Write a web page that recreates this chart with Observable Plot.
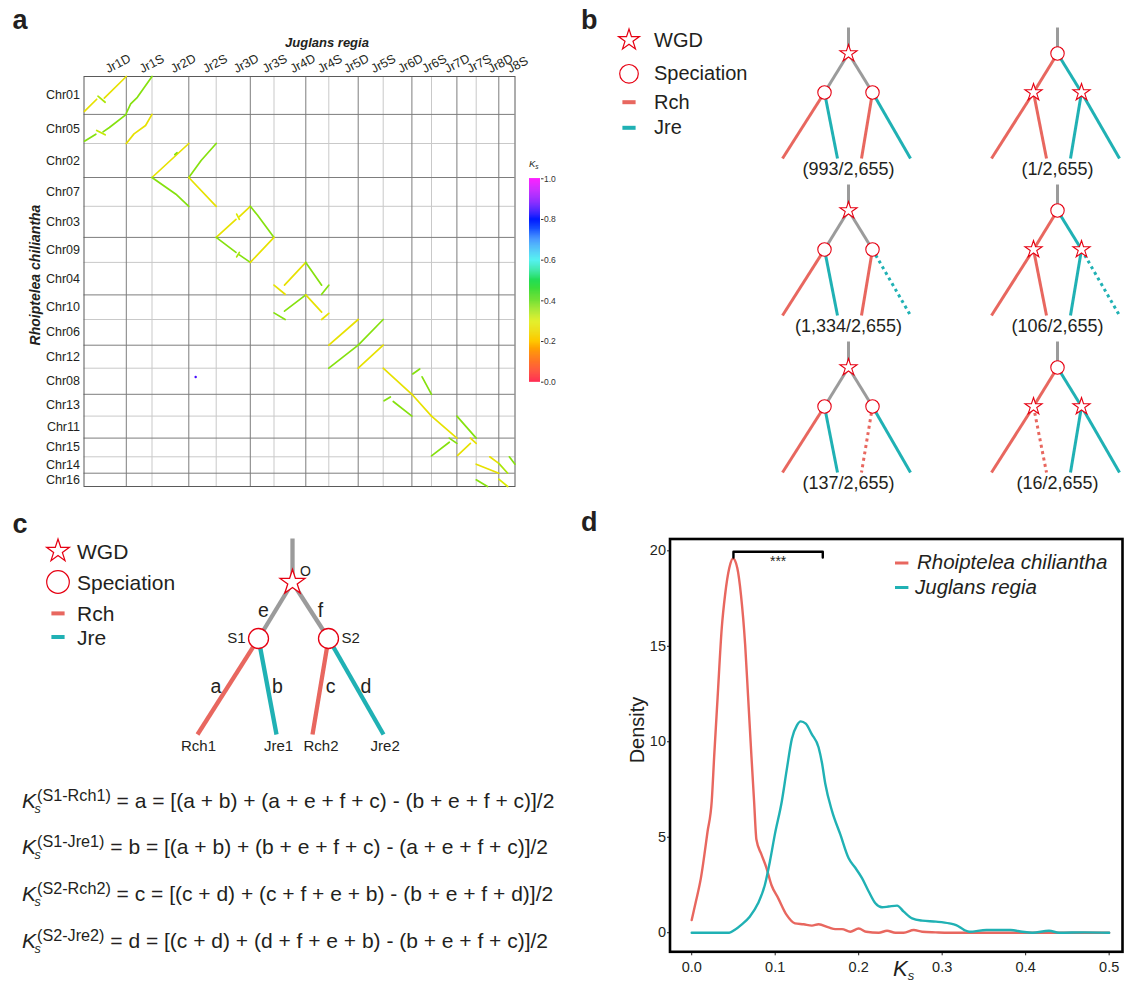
<!DOCTYPE html>
<html>
<head>
<meta charset="utf-8">
<script src="https://cdn.jsdelivr.net/npm/d3@7"></script>
<script src="https://cdn.jsdelivr.net/npm/@observablehq/plot@0.6"></script>
<style>
html,body{margin:0;padding:0;background:#fff;overflow:hidden;}
#fig{position:relative;width:1126px;height:985px;overflow:hidden;font-family:"Liberation Sans",Arial,Helvetica,sans-serif;color:#231f20;}
#fig div.t{position:absolute;white-space:nowrap;line-height:1;}
.plab{font-weight:bold;font-size:27px;}
.kk{position:relative;font-style:italic;}
.ks-sub{position:absolute;left:12.5px;top:14px;font-size:12.5px;font-style:italic;line-height:1;}
.ks-sup{font-size:16.2px;position:relative;top:-7px;margin-left:1px;}
</style>
</head>
<body>
<div id="fig"></div>
<script>
// ================= DATA =================
// ---- panel a: dot plot (Juglans regia x Rhoiptelea chiliantha) ----
const jrChroms  = ["Jr1D","Jr1S","Jr2D","Jr2S","Jr3D","Jr3S","Jr4D","Jr4S","Jr5D","Jr5S","Jr6D","Jr6S","Jr7D","Jr7S","Jr8D","J8S"];
const jrLengths = [42.3,25.7,36.8,27.4,34.1,23.7,31.8,23.0,29.4,25.0,28.7,19.6,25.4,19.3,22.6,16.2]; // Mb (approx.)
const rcChroms  = ["Chr01","Chr05","Chr02","Chr07","Chr03","Chr09","Chr04","Chr10","Chr06","Chr12","Chr08","Chr13","Chr11","Chr15","Chr14","Chr16"];
const rcLengths = [37.9,29.1,34.0,28.8,31.1,25.0,32.5,24.6,25.7,23.0,26.1,21.8,22.0,18.7,16.4,13.3]; // Mb (approx.)
// synteny blocks: [Juglans chr, Rhoiptelea chr, path as [fraction along Jr chr, fraction along Rc chr], median Ks]
const synBlocks = [
  ["Jr1D","Chr01",[[0.01,0.92],[0.30,0.60]],0.27],
  ["Jr1D","Chr01",[[0.33,0.52],[0.50,0.68]],0.34],
  ["Jr1D","Chr01",[[0.48,0.57],[1,0]],0.27],
  ["Jr1S","Chr01",[[0,0.97],[0.17,0.72],[0.43,0.55],[1,0]],0.37],
  ["Jr1D","Chr05",[[0.01,0.92],[0.28,0.68]],0.37],
  ["Jr1D","Chr05",[[0.30,0.55],[0.50,0.70]],0.32],
  ["Jr1D","Chr05",[[0.45,0.60],[0.60,0.45],[1,0]],0.37],
  ["Jr1S","Chr05",[[0,1],[0.30,0.67],[0.75,0.38],[1,0]],0.27],
  ["Jr2D","Chr02",[[0,1],[1,0]],0.27],
  ["Jr2D","Chr02",[[0.62,0.33],[0.68,0.27]],0.37],
  ["Jr2S","Chr02",[[0,1],[0.45,0.5],[1,0]],0.37],
  ["Jr2D","Chr07",[[0,0],[0.65,0.58],[1,1]],0.37],
  ["Jr2S","Chr07",[[0,0],[1,1]],0.27],
  ["Jr3D","Chr03",[[0,1],[0.58,0.42]],0.27],
  ["Jr3D","Chr03",[[0.60,0.25],[0.68,0.42]],0.30],
  ["Jr3D","Chr03",[[0.68,0.33],[1,0]],0.27],
  ["Jr3S","Chr03",[[0,0],[0.3,0.28],[1,1]],0.37],
  ["Jr3D","Chr09",[[0,0],[0.58,0.6]],0.37],
  ["Jr3D","Chr09",[[0.60,0.78],[0.68,0.6]],0.34],
  ["Jr3D","Chr09",[[0.68,0.7],[1,1]],0.37],
  ["Jr3S","Chr09",[[0,1],[1,0]],0.27],
  ["Jr4D","Chr04",[[0.33,0.70],[1,0]],0.27],
  ["Jr4D","Chr04",[[0,0.70],[0.35,0.98]],0.27],
  ["Jr4S","Chr04",[[0,0],[0.69,0.70]],0.37],
  ["Jr4S","Chr04",[[0.69,0.98],[1,0.70]],0.37],
  ["Jr4D","Chr10",[[0.33,0.66],[1,0]],0.37],
  ["Jr4D","Chr10",[[0,0.73],[0.35,1]],0.37],
  ["Jr4S","Chr10",[[0,0],[0.69,0.70]],0.27],
  ["Jr4S","Chr10",[[0.69,1],[1,0.75]],0.27],
  ["Jr5D","Chr06",[[0,1],[1,0]],0.27],
  ["Jr5S","Chr06",[[0,1],[1,0]],0.37],
  ["Jr5D","Chr12",[[0,1],[1,0]],0.37],
  ["Jr5S","Chr12",[[0,1],[1,0]],0.27],
  ["Jr6D","Chr08",[[0,0],[1,1]],0.27],
  ["Jr6S","Chr08",[[0.04,0.22],[0.4,0.03]],0.37],
  ["Jr6S","Chr08",[[0.52,0.33],[1,1]],0.37],
  ["Jr6D","Chr13",[[0.03,0.30],[0.25,0.12]],0.37],
  ["Jr6D","Chr13",[[0.35,0.33],[1,1]],0.37],
  ["Jr6S","Chr13",[[0,0],[1,1]],0.27],
  ["Jr7D","Chr11",[[0,0],[1,1]],0.27],
  ["Jr7S","Chr11",[[0,0],[1,1]],0.37],
  ["Jr7D","Chr15",[[0,0.95],[0.7,0.22]],0.37],
  ["Jr7D","Chr15",[[0.7,0],[1,0.28]],0.37],
  ["Jr7S","Chr15",[[0.04,0.92],[0.7,0.28]],0.27],
  ["Jr7S","Chr15",[[0.7,0],[1,0.28]],0.27],
  ["Jr8D","Chr14",[[0,0.45],[1,1]],0.27],
  ["Jr8D","Chr14",[[0.6,0],[1,0.4]],0.27],
  ["J8S","Chr14",[[0,0.4],[0.55,1]],0.34],
  ["J8S","Chr14",[[0.65,0],[1,0.45]],0.37],
  ["Jr8D","Chr16",[[0,0.5],[0.5,1]],0.37],
  ["J8S","Chr16",[[0,0.45],[0.55,1]],0.30]
];
const outlierHits = [["Jr2S","Chr08",0.25,0.34,0.85]];
const ksStops  = [0,0.1,0.2,0.3,0.4,0.5,0.6,0.7,0.8,0.9,1.0];
const ksColors = ["#ff0030","#ff5a00","#ffc800","#dcec00","#5fdc14","#22dd55","#30eeee","#2f8cff","#0018ff","#8a00ff","#ff00ff"];
const ksTicks  = [0,0.2,0.4,0.6,0.8,1.0];

// ---- panel b: gene tree topologies ----
const treeScenario = ["WGD first","speciation first","WGD first","speciation first","WGD first","speciation first"];
const treeCounts   = [993, 1, 1334, 106, 137, 16];
const treeTotal    = 2655;
const treeLost     = [null, null, "RR", "RR", "RL", "LR"]; // lost (dotted) tip
const legendEntries = ["WGD","Speciation","Rch","Jre"];

// ---- panel c: Ks decomposition ----
const cBranches = [["root","O",null,"anc"],["O","S1","e","anc"],["O","S2","f","anc"],
                   ["S1","Rch1","a","Rch"],["S1","Jre1","b","Jre"],["S2","Rch2","c","Rch"],["S2","Jre2","d","Jre"]];
const ksFormulas = [
  {pair:"S1-Rch1", branch:"a", expr:"[(a + b) + (a + e + f + c) - (b + e + f + c)]/2"},
  {pair:"S1-Jre1", branch:"b", expr:"[(a + b) + (b + e + f + c) - (a + e + f + c)]/2"},
  {pair:"S2-Rch2", branch:"c", expr:"[(c + d) + (c + f + e + b) - (b + e + f + d)]/2"},
  {pair:"S2-Jre2", branch:"d", expr:"[(c + d) + (d + f + e + b) - (b + e + f + c)]/2"}
];

// ---- panel d: Ks density ----
const rhoKs   = [0,0.005,0.011,0.019,0.024,0.027,0.031,0.036,0.040,0.045,0.0495,0.0546,0.059,0.064,0.0675,0.0716,0.0747,0.0775,0.0835,0.0895,0.0955,0.1037,0.1137,0.1237,0.134,0.144,0.152,0.164,0.172,0.180,0.190,0.200,0.209,0.224,0.234,0.244,0.254,0.266,0.276,0.292,0.308,0.35,0.40,0.45,0.50];
const rhoDens = [0.66,1.63,2.86,5.3,6.9,9.3,12.3,15.96,17.7,19.1,19.6,19.1,17.7,15.1,12.4,9.2,6.9,4.88,4.1,3.4,2.5,1.8,0.93,0.49,0.44,0.37,0.44,0.28,0.19,0.19,0.05,0.22,0.05,0.0,0.1,0.0,0.0,0.14,0.05,0.02,0.0,0.0,0.0,0.0,0.0];
const jugKs   = [0,0.011,0.045,0.0513,0.059,0.0695,0.0795,0.0876,0.0937,0.0996,0.108,0.1137,0.12,0.126,0.1306,0.1366,0.1438,0.152,0.156,0.16,0.168,0.178,0.188,0.196,0.204,0.212,0.22,0.228,0.236,0.246,0.254,0.264,0.276,0.2926,0.3086,0.3167,0.3266,0.3326,0.353,0.372,0.382,0.396,0.408,0.428,0.44,0.47,0.50];
const jugDens = [0,0,0,0.14,0.4,0.84,1.54,2.5,3.74,5.15,6.9,8.5,10.16,10.86,11.07,10.95,10.4,9.7,8.9,7.8,6.38,5.15,3.9,3.4,2.86,2.16,1.54,1.33,1.37,1.42,1.1,0.75,0.63,0.58,0.49,0.4,0.14,0.05,0.14,0.14,0.14,0.05,0,0.1,0,0.02,0];
const ksAxisTicks  = [0,0.1,0.2,0.3,0.4,0.5];
const densityTicks = [0,5,10,15,20];
const sigTest = {from:0.05, to:0.157, at:19.95, label:"***"};
const speciesNames = ["Rhoiptelea chiliantha","Juglans regia"];

// ================= HELPERS =================
const FONT = '"Liberation Sans", Arial, Helvetica, sans-serif';
const INK = "#231f20";
const RCH = "#E8675F", JRE = "#20B1B4", GREY = "#9B9B9B", NODE = "#E60012";
const spColor = {anc: GREY, Rch: RCH, Jre: JRE};
const fig = document.getElementById("fig");
function put(node, left, top) {
  const d = document.createElement("div");
  d.style.position = "absolute"; d.style.left = left + "px"; d.style.top = top + "px";
  d.appendChild(node); fig.appendChild(d); return d;
}
function txt(html, left, top, css = "") {
  const d = document.createElement("div");
  d.className = "t";
  d.style.cssText = `left:${left}px;top:${top}px;${css}`;
  d.innerHTML = html; fig.appendChild(d); return d;
}
const baseStyle = (fs) => ({fontFamily: FONT, fontSize: fs, color: INK, background: "transparent", overflow: "visible"});
const ksColor = {type: "linear", domain: ksStops, range: ksColors, interpolate: "rgb"};

// ================= PANEL a =================
const jrStart = d3.cumsum([0, ...jrLengths]);
const rcStart = d3.cumsum([0, ...rcLengths]);
const jrIdx = new Map(jrChroms.map((c, i) => [c, i]));
const rcIdx = new Map(rcChroms.map((c, i) => [c, i]));
const jrPos = (c, f) => jrStart[jrIdx.get(c)] + f * jrLengths[jrIdx.get(c)];
const rcPos = (c, f) => rcStart[rcIdx.get(c)] + f * rcLengths[rcIdx.get(c)];
const synPts = synBlocks.flatMap(([jr, rc, path, ks], id) =>
  path.map(([fj, fr]) => ({id, ks, x: jrPos(jr, fj), y: rcPos(rc, fr)})));
const outPts = outlierHits.map(([jr, rc, fj, fr, ks]) => ({ks, x: jrPos(jr, fj), y: rcPos(rc, fr)}));
const jrBounds = d3.range(1, jrChroms.length).map(i => ({v: jrStart[i], pair: i % 2 === 1}));
const rcBounds = d3.range(1, rcChroms.length).map(i => ({v: rcStart[i], pair: i % 2 === 1}));
const jrMid = jrChroms.map((c, i) => ({c, v: jrStart[i] + jrLengths[i] / 2}));
const rcMid = rcChroms.map((c, i) => ({c, v: rcStart[i] + rcLengths[i] / 2}));

const plotA = Plot.plot({
  width: 530, height: 500, marginLeft: 83.5, marginRight: 15.5, marginTop: 76, marginBottom: 14,
  x: {domain: [0, jrStart[jrChroms.length]], axis: null},
  y: {domain: [0, rcStart[rcChroms.length]], reverse: true, axis: null},
  color: ksColor,
  style: baseStyle("12.5px"),
  marks: [
    Plot.ruleX(jrBounds.filter(d => !d.pair), {x: "v", stroke: "#c9c9c9", strokeWidth: 1}),
    Plot.ruleY(rcBounds.filter(d => !d.pair), {y: "v", stroke: "#c9c9c9", strokeWidth: 1}),
    Plot.ruleX(jrBounds.filter(d => d.pair), {x: "v", stroke: "#7d7d7d", strokeWidth: 1}),
    Plot.ruleY(rcBounds.filter(d => d.pair), {y: "v", stroke: "#7d7d7d", strokeWidth: 1}),
    Plot.frame({stroke: "#5a5a5a", strokeWidth: 1}),
    Plot.line(synPts, {x: "x", y: "y", z: "id", stroke: "ks", strokeWidth: 1.7}),
    Plot.dot(outPts, {x: "x", y: "y", fill: "ks", r: 1.2}),
    Plot.text(jrMid, {x: "v", text: "c", frameAnchor: "top", dy: -11, dx: -1, rotate: -28, textAnchor: "start", fontSize: 12.5}),
    Plot.text(rcMid, {y: "v", text: "c", frameAnchor: "left", dx: -4, textAnchor: "end"})
  ]
});
put(plotA, 0, 0);

// colour bar
const ramp = d3.range(0, 1, 0.005);
const plotBar = Plot.plot({
  width: 48, height: 240, marginLeft: 9, marginRight: 28, marginTop: 18.3, marginBottom: 18.3,
  x: {domain: [0, 1], axis: null},
  y: {domain: [0, 1], axis: "right", ticks: ksTicks, tickFormat: ".1f", tickSize: 2.5, tickPadding: 1, label: null},
  color: ksColor,
  style: {...baseStyle("8.5px"), color: "#333"},
  marks: [Plot.rect(ramp, {x1: () => 0, x2: () => 1, y1: d => d, y2: d => d + 0.0056, fill: d => d + 0.0025})]
});
put(plotBar, 520, 160);
txt('<i>K</i><sub style="font-size:6.5px;font-style:italic;vertical-align:-2px">s</sub>', 529, 158.5, "font-size:9.5px;");

txt("<b><i>Juglans regia</i></b>", 327, 35.5, "font-size:13px;transform:translateX(-50%);");
txt("<b><i>Rhoiptelea chiliantha</i></b>", 35, 274.5, "font-size:14px;transform:translate(-50%,-50%) rotate(-90deg);");

// ================= PANEL b =================
const bTemplate = {root: [0, -26], top: [0, 0], L: [-24, 39], R: [24, 39], LL: [-66, 105], LR: [-11, 105], RL: [13, 105], RR: [62, 105]};
const bEdges = [["root","top"],["top","L"],["top","R"],["L","LL"],["L","LR"],["R","RL"],["R","RR"]];
const bEdgeSpecies = {
  "WGD first": ["anc","anc","anc","Rch","Jre","Rch","Jre"],
  "speciation first": ["anc","Rch","Jre","Rch","Rch","Jre","Jre"]
};
const bNodeEvents = {
  "WGD first": {top: "WGD", L: "Speciation", R: "Speciation"},
  "speciation first": {top: "Speciation", L: "WGD", R: "WGD"}
};
const B_DX = 209, B_DY = 157; // layout spacing between the six trees
const bTrees = treeScenario.map((sc, k) => ({sc, k, ox: (k % 2) * B_DX, oy: Math.floor(k / 2) * B_DY,
  label: `(${d3.format(",")(treeCounts[k])}/${d3.format(",")(treeTotal)})`}));
const bLinks = bTrees.flatMap(t => bEdges.map(([a, b], j) => ({
  x1: t.ox + bTemplate[a][0], y1: t.oy + bTemplate[a][1],
  x2: t.ox + bTemplate[b][0], y2: t.oy + bTemplate[b][1],
  sp: bEdgeSpecies[t.sc][j], lost: treeLost[t.k] === b
})));
const bNodes = bTrees.flatMap(t => Object.entries(bNodeEvents[t.sc]).map(([n, ev]) => ({
  x: t.ox + bTemplate[n][0], y: t.oy + bTemplate[n][1], ev
})));
const linkMarks = (links, w, dash) => Object.entries(spColor).flatMap(([sp, col]) => [
  Plot.link(links.filter(d => d.sp === sp && !d.lost), {x1: "x1", y1: "y1", x2: "x2", y2: "y2", stroke: col, strokeWidth: w}),
  Plot.link(links.filter(d => d.sp === sp && d.lost), {x1: "x1", y1: "y1", x2: "x2", y2: "y2", stroke: col, strokeWidth: w, strokeDasharray: dash})
]);
const plotB = Plot.plot({
  width: 526, height: 500, margin: 0,
  x: {domain: [-248, 278], axis: null},
  y: {domain: [-53, 447], reverse: true, axis: null},
  style: baseStyle("18px"),
  marks: [
    ...linkMarks(bLinks, 3, "3,3.5"),
    Plot.dot(bNodes.filter(d => d.ev === "WGD"), {x: "x", y: "y", symbol: "star", r: 5.4, fill: "white", stroke: NODE, strokeWidth: 1.1}),
    Plot.dot(bNodes.filter(d => d.ev === "Speciation"), {x: "x", y: "y", r: 6.7, fill: "white", stroke: NODE, strokeWidth: 1.1}),
    Plot.text(bTrees, {x: d => d.ox, y: d => d.oy + 116, text: "label"})
  ]
});
put(plotB, 600, 0);

function eventLegend(cx, ys, textLeft, fs, starR, circR) {
  const w = 40, h = 140;
  const top = ys[0] - 20, left = cx - 20;
  const svg = d3.create("svg").attr("width", w).attr("height", h).style("overflow", "visible");
  const lx = 20;
  svg.append("path").attr("d", d3.symbol(d3.symbolStar, starR * starR / 0.8908130915292852)())
    .attr("transform", `translate(${lx},${ys[0] - top})`).attr("fill", "white").attr("stroke", NODE).attr("stroke-width", 1.2);
  svg.append("circle").attr("cx", lx).attr("cy", ys[1] - top).attr("r", circR).attr("fill", "white").attr("stroke", NODE).attr("stroke-width", 1.2);
  [[RCH, ys[2]], [JRE, ys[3]]].forEach(([c, y]) => svg.append("line").attr("x1", lx - 6.6).attr("x2", lx + 6.6)
    .attr("y1", y - top).attr("y2", y - top).attr("stroke", c).attr("stroke-width", 4));
  put(svg.node(), left, top);
  legendEntries.forEach((name, i) => txt(name, textLeft, ys[i] - fs / 2, `font-size:${fs}px;`));
}
eventLegend(629.3, [39.5, 73.3, 101.7, 127.3], 654, 20, 11, 9.3);

// ================= PANEL c =================
const cNodes = [
  {id: "root", x: 0, y: -44},
  {id: "O", x: 0, y: 0, ev: "WGD"},
  {id: "S1", x: -34, y: 56, ev: "Speciation", side: "left"},
  {id: "S2", x: 36, y: 56, ev: "Speciation", side: "right"},
  {id: "Rch1", x: -95, y: 152, leaf: true, lx: 1},
  {id: "Jre1", x: -16, y: 152, leaf: true, lx: 2},
  {id: "Rch2", x: 20, y: 152, leaf: true, lx: 8.5},
  {id: "Jre2", x: 91, y: 152, leaf: true, lx: 1.7}
];
const cById = new Map(cNodes.map(d => [d.id, d]));
const cLinks = cBranches.map(([a, b, name, sp]) => {
  const A = cById.get(a), B = cById.get(b);
  return {x1: A.x, y1: A.y, x2: B.x, y2: B.y, sp, name, mx: (A.x + B.x) / 2, my: (A.y + B.y) / 2, left: B.x < A.x - 20, lost: false};
});
const plotC = Plot.plot({
  width: 280, height: 250, margin: 0,
  x: {domain: [-142, 138], axis: null},
  y: {domain: [-67, 183], reverse: true, axis: null},
  style: baseStyle("15px"),
  marks: [
    ...linkMarks(cLinks, 4.3, "3,3"),
    Plot.dot(cNodes.filter(d => d.ev === "WGD"), {x: "x", y: "y", symbol: "star", r: 7.8, fill: "white", stroke: NODE, strokeWidth: 1.3}),
    Plot.dot(cNodes.filter(d => d.ev === "Speciation"), {x: "x", y: "y", r: 10, fill: "white", stroke: NODE, strokeWidth: 1.3}),
    Plot.text(cNodes.filter(d => d.ev === "WGD"), {x: "x", y: "y", text: "id", dx: 13, dy: -11, fontSize: 14}),
    Plot.text(cNodes.filter(d => d.side === "left"), {x: "x", y: "y", text: "id", dx: -13, textAnchor: "end", fontSize: 15}),
    Plot.text(cNodes.filter(d => d.side === "right"), {x: "x", y: "y", text: "id", dx: 13, textAnchor: "start", fontSize: 15}),
    Plot.text(cNodes.filter(d => d.leaf), {x: d => d.x + d.lx, y: "y", text: "id", dy: 12, fontSize: 15}),
    Plot.text(cLinks.filter(d => d.name && d.left), {x: "mx", y: "my", text: "name", dx: -12, fontSize: 19.5}),
    Plot.text(cLinks.filter(d => d.name && !d.left), {x: "mx", y: "my", text: "name", dx: 10, fontSize: 19.5})
  ]
});
put(plotC, 150, 515);
eventLegend(57.5, [551, 582, 613.4, 637], 77, 21, 12, 11.3);

const formulaY = [800, 846.5, 893, 940];
ksFormulas.forEach((f, i) => {
  txt(`<span class="kk">K<span class="ks-sub">s</span></span><span class="ks-sup">(${f.pair})</span> = ${f.branch} = ${f.expr}`,
      22, formulaY[i] - 10.5, "font-size:21px;");
});

// ================= PANEL d =================
const rhoSeries = rhoKs.map((k, i) => ({ks: k, density: rhoDens[i]}));
const jugSeries = jugKs.map((k, i) => ({ks: k, density: jugDens[i]}));
const drop = 0.3;
const bracketPts = [
  {x: sigTest.from, y: sigTest.at - drop}, {x: sigTest.from, y: sigTest.at},
  {x: sigTest.to, y: sigTest.at}, {x: sigTest.to, y: sigTest.at - drop}
];
const plotD = Plot.plot({
  width: 526, height: 475, marginLeft: 69.5, marginRight: 4, marginTop: 28.5, marginBottom: 33.7,
  x: {domain: [-0.026, 0.516], ticks: ksAxisTicks, tickFormat: ".1f", tickSize: 4, tickPadding: 6, label: null},
  y: {domain: [-1, 20.62], ticks: densityTicks, tickSize: 2.5, tickPadding: 1.5, label: null},
  style: baseStyle("14.5px"),
  marks: [
    Plot.line(rhoSeries, {x: "ks", y: "density", stroke: RCH, strokeWidth: 2.4, curve: "monotone-x"}),
    Plot.line(jugSeries, {x: "ks", y: "density", stroke: JRE, strokeWidth: 2.4, curve: "monotone-x"}),
    Plot.line(bracketPts, {x: "x", y: "y", stroke: "#000", strokeWidth: 2.4}),
    Plot.text([sigTest], {x: d => (d.from + d.to) / 2, y: "at", text: "label", dy: 10, fontSize: 14}),
    Plot.frame({stroke: "#000", strokeWidth: 2.6})
  ]
});
put(plotD, 600, 510);
txt("Density", 637, 730, "font-size:20px;transform:translate(-50%,-50%) rotate(-90deg);");
txt('<i>K</i><span style="font-size:13px;font-style:italic;position:relative;top:4px;">s</span>', 893, 958, "font-size:22px;");

// legend panel d
(function () {
  const svg = d3.create("svg").attr("width", 20).attr("height", 40).style("overflow", "visible");
  [[RCH, 5], [JRE, 29.5]].forEach(([c, y]) => svg.append("line").attr("x1", 0).attr("x2", 13.4)
    .attr("y1", y).attr("y2", y).attr("stroke", c).attr("stroke-width", 3));
  put(svg.node(), 895.3, 557.7);
  txt(`<i>${speciesNames[0]}</i>`, 917, 562.7 - 10.25, "font-size:20.5px;");
  txt(`<i>${speciesNames[1]}</i>`, 915, 587.2 - 10.25, "font-size:20.5px;");
})();

// panel letters
txt("a", 12.5, 7).className = "t plab";
txt("b", 581, 7).className = "t plab";
txt("c", 12.5, 510.5).className = "t plab";
txt("d", 581, 509).className = "t plab";
</script>
</body>
</html>
